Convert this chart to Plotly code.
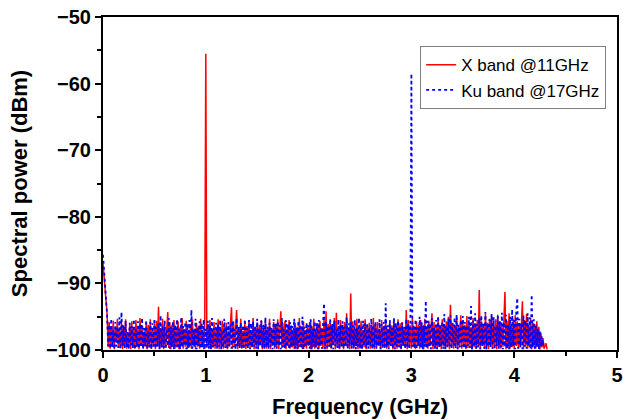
import numpy as np
import plotly.graph_objects as go

# Frequency grid (GHz): first sample and step between samples
f_start = 0.0
f_step = 0.01

# X band @11GHz spectrum (dBm), one value per 0.01 GHz, 0 .. 4.32 GHz
x_band_dbm = [
    -87.0, -89.0, -91.2, -93.0, -94.6, -99.6, -95.8, -99.8, -96.4, -99.2,
    -95.6, -99.9, -96.9, -98.8, -95.3, -99.7, -97.2, -99.5, -95.9, -99.9,
    -96.6, -99.3, -95.4, -99.8, -97.4, -99.6, -96.1, -99.9, -95.7, -99.4,
    -97.0, -99.8, -95.5, -99.6, -96.8, -99.9, -95.2, -99.3, -96.4, -99.7,
    -97.3, -99.5, -95.9, -99.9, -96.2, -99.6, -95.4, -99.8, -97.1, -99.4,
    -96.0, -99.9, -95.6, -99.5, -93.5, -99.8, -96.7, -99.6, -95.3, -99.9,
    -96.5, -99.4, -97.2, -94.3, -99.7, -95.8, -99.9, -96.3, -99.5, -95.5,
    -99.8, -97.0, -99.6, -95.7, -99.9, -96.6, -99.3, -95.2, -99.8, -96.9,
    -99.5, -95.6, -99.9, -97.3, -99.6, -96.1, -99.8, -95.4, -99.4, -96.8,
    -99.9, -95.9, -99.5, -96.4, -99.8, -95.3, -99.6, -97.1, -99.9, -95.7,
    -55.5, -99.7, -96.2, -99.4, -95.5, -99.9, -96.9, -99.6, -95.8, -99.8,
    -97.0, -99.5, -95.4, -99.9, -96.6, -99.3, -95.6, -99.8, -96.3, -99.6,
    -95.9, -99.9, -97.2, -99.5, -96.0, -93.6, -99.8, -95.7, -99.4, -96.5,
    -94.0, -99.9, -96.8, -99.6, -95.3, -99.8, -97.1, -99.5, -95.8, -99.9,
    -96.4, -99.4, -95.6, -99.8, -97.3, -99.6, -95.2, -99.9, -96.7, -99.5,
    -95.9, -99.8, -96.2, -99.3, -95.5, -99.9, -97.0, -99.6, -95.7, -99.8,
    -96.6, -99.5, -95.3, -99.9, -96.9, -99.4, -95.8, -99.8, -96.1, -99.6,
    -95.4, -99.9, -97.2, -94.2, -99.7, -96.0, -99.5, -95.6, -99.9, -96.8,
    -99.4, -95.5, -99.8, -96.3, -99.6, -97.1, -99.9, -95.9, -99.3, -96.5,
    -99.8, -95.2, -99.5, -96.8, -99.9, -95.7, -99.6, -97.0, -99.8, -96.2,
    -99.4, -95.8, -99.9, -96.4, -99.6, -95.3, -99.8, -97.3, -99.5, -96.0,
    -99.9, -95.6, -99.4, -96.7, -99.8, -95.4, -99.6, -94.2, -99.9, -96.1,
    -99.5, -95.9, -99.8, -96.5, -99.3, -95.2, -99.9, -94.4, -99.6, -96.8,
    -99.8, -95.5, -99.5, -96.2, -99.9, -95.8, -99.4, -94.5, -99.7, -96.6,
    -99.9, -91.5, -99.6, -95.7, -99.8, -96.9, -99.4, -95.3, -99.9, -96.4,
    -99.5, -95.6, -99.8, -97.0, -99.6, -95.4, -99.9, -96.3, -99.3, -95.9,
    -99.8, -96.7, -99.5, -95.2, -99.9, -96.1, -99.6, -95.8, -99.4, -97.2,
    -99.9, -95.5, -99.7, -96.5, -99.5, -95.3, -99.8, -96.8, -99.6, -95.7,
    -99.4, -96.3, -99.9, -95.6, -99.6, -97.1, -99.8, -95.4, -99.5, -96.0,
    -99.9, -95.8, -99.4, -96.6, -99.7, -94.0, -99.9, -95.5, -99.6, -96.3,
    -99.8, -95.2, -99.5, -96.9, -99.9, -95.7, -99.3, -96.2, -99.8, -95.5,
    -99.6, -96.4, -99.9, -95.3, -99.5, -96.8, -99.8, -95.6, -99.4, -96.0,
    -94.5, -99.9, -95.8, -99.6, -96.5, -99.8, -95.2, -99.5, -96.7, -99.9,
    -95.4, -99.4, -96.1, -99.8, -95.7, -99.6, -95.0, -99.9, -93.2, -99.5,
    -95.9, -99.8, -96.4, -99.3, -95.1, -99.9, -96.6, -99.6, -94.8, -99.8,
    -95.6, -99.5, -96.2, -99.9, -94.9, -99.7, -95.8, -99.4, -96.5, -99.9,
    -95.2, -99.6, -96.0, -99.8, -95.5, -99.5, -91.0, -99.9, -95.7, -99.4,
    -96.3, -99.8, -94.6, -99.6, -95.9, -99.9, -95.3, -99.5, -94.9, -99.8,
    -96.1, -99.4, -95.4, -99.9, -94.7, -99.6, -95.8, -99.8, -96.4, -99.5,
    -95.0, -91.3, -99.9, -95.6, -99.5, -94.5, -99.8, -96.2, -99.6, -95.3,
    -99.9, -94.8, -99.4, -95.7, -99.8, -96.0, -99.6, -95.1, -92.7, -99.9,
    -95.5, -99.5, -94.6, -99.8, -96.3, -99.6, -95.2, -99.9, -95.9, -99.4,
    -96.1, -99.8, -95.7, -99.5, -96.5, -99.9, -97.4, -99.6, -98.2, -99.8,
    -99.2, -99.0, -99.9,
]

# Ku band @17GHz spectrum (dBm), one value per 0.01 GHz, 0 .. 4.29 GHz
ku_band_dbm = [
    -85.7, -88.0, -91.0, -93.0, -94.8, -99.4, -96.2, -99.8, -95.3, -99.6,
    -97.0, -99.9, -95.8, -99.5, -96.5, -99.7, -95.1, -99.9, -94.3, -99.4,
    -96.3, -99.8, -95.6, -99.6, -97.1, -99.9, -95.9, -99.3, -96.4, -99.7,
    -95.4, -99.9, -96.9, -99.5, -95.7, -99.8, -96.1, -99.6, -95.2, -99.9,
    -96.7, -99.4, -95.5, -99.8, -97.2, -99.6, -95.8, -99.9, -96.0, -99.5,
    -95.3, -99.8, -96.6, -99.5, -95.9, -99.9, -94.8, -99.6, -96.3, -99.7,
    -95.6, -99.9, -97.0, -99.4, -95.2, -99.8, -96.5, -99.6, -95.7, -99.9,
    -96.2, -99.5, -95.4, -99.8, -96.8, -99.9, -95.1, -99.6, -96.4, -99.4,
    -95.8, -99.9, -96.1, -99.7, -95.5, -99.6, -94.0, -99.8, -96.9, -99.5,
    -95.3, -99.9, -96.6, -99.4, -95.7, -99.8, -96.0, -99.6, -95.4, -99.9,
    -96.8, -99.5, -95.6, -99.8, -96.3, -99.9, -95.2, -99.6, -96.7, -99.4,
    -95.9, -99.8, -96.2, -99.5, -95.5, -99.9, -97.0, -99.6, -95.3, -99.7,
    -96.4, -99.9, -95.8, -99.4, -96.1, -99.8, -95.6, -99.6, -96.9, -99.9,
    -95.2, -99.5, -96.5, -99.8, -95.9, -99.6, -96.3, -99.9, -95.4, -99.4,
    -96.7, -99.8, -95.5, -99.9, -96.0, -99.6, -95.7, -99.5, -96.4, -99.8,
    -95.3, -99.9, -96.8, -99.4, -95.6, -99.7, -96.2, -99.9, -95.1, -99.6,
    -96.5, -99.8, -95.9, -99.5, -96.6, -99.9, -95.4, -99.6, -96.0, -99.8,
    -95.7, -99.4, -96.3, -99.9, -95.2, -99.6, -96.9, -99.8, -95.5, -99.5,
    -96.1, -99.9, -95.8, -99.6, -96.4, -99.4, -95.3, -99.8, -96.7, -99.9,
    -95.6, -99.5, -96.2, -99.8, -95.0, -99.9, -96.5, -99.6, -95.9, -99.4,
    -96.3, -99.8, -95.4, -99.9, -96.8, -99.5, -95.7, -99.6, -96.0, -99.9,
    -95.5, -99.4, -96.6, -99.8, -95.2, -93.0, -99.9, -95.8, -99.6, -96.4,
    -99.5, -95.3, -99.8, -96.1, -99.9, -95.6, -99.4, -96.9, -99.7, -95.4,
    -99.9, -96.2, -99.6, -95.7, -99.8, -96.5, -99.5, -95.1, -99.9, -96.0,
    -99.4, -95.8, -99.8, -96.3, -99.6, -95.5, -99.9, -96.7, -99.5, -95.2,
    -99.8, -96.4, -99.9, -95.6, -99.4, -96.0, -99.7, -95.9, -99.8, -96.6,
    -99.5, -95.3, -99.9, -96.2, -99.6, -95.7, -99.8, -96.8, -99.4, -95.4,
    -99.9, -96.1, -99.5, -95.8, -99.8, -93.0, -99.6, -96.3, -99.9, -95.5,
    -99.4, -96.7, -99.8, -95.2, -99.9, -96.0, -99.5, -95.6, -99.6, -96.4,
    -99.9, -95.9, -99.4, -96.5, -99.8, -95.3, -99.6, -96.1, -99.9, -95.7,
    -58.5, -99.5, -96.2, -99.8, -95.4, -99.9, -96.6, -99.4, -95.0, -99.7,
    -95.8, -99.9, -96.3, -99.5, -92.6, -99.8, -95.6, -99.6, -96.0, -99.9,
    -95.2, -99.4, -96.7, -99.8, -95.5, -99.9, -94.9, -99.6, -96.1, -99.5,
    -95.7, -99.8, -94.6, -99.9, -96.4, -99.5, -95.3, -99.6, -94.8, -99.9,
    -96.0, -99.4, -95.1, -99.8, -94.7, -99.9, -96.2, -99.6, -95.5, -99.5,
    -94.9, -99.8, -95.8, -99.9, -96.3, -99.4, -95.0, -99.7, -93.4, -99.9,
    -95.6, -99.5, -94.5, -99.8, -96.1, -99.6, -95.2, -99.9, -94.8, -99.4,
    -95.9, -99.8, -94.3, -99.9, -96.0, -99.5, -95.4, -99.6, -94.6, -99.8,
    -95.1, -99.9, -96.4, -99.4, -94.9, -99.8, -95.7, -99.6, -94.4, -99.9,
    -95.8, -99.5, -94.7, -99.8, -96.2, -99.9, -95.0, -99.6, -93.9, -99.4,
    -95.5, -99.9, -94.2, -92.2, -99.8, -95.3, -99.6, -96.0, -99.9, -94.8,
    -99.5, -95.6, -99.8, -94.5, -99.4, -95.1, -99.9, -91.7, -99.6, -95.4,
    -99.8, -96.3, -99.5, -96.8, -99.9, -97.2, -99.6, -98.0, -99.4, -98.6,
]

freq_x = f_start + f_step * np.arange(len(x_band_dbm))
freq_ku = f_start + f_step * np.arange(len(ku_band_dbm))

x_ticks = [0, 1, 2, 3, 4, 5]
y_ticks = [-100, -90, -80, -70, -60, -50]
y_tick_text = ["\u2212" + str(abs(v)) for v in y_ticks]

FONT = "Liberation Sans, Arial, sans-serif"

fig = go.Figure()
fig.add_trace(go.Scatter(
    x=freq_x, y=x_band_dbm, mode="lines", name="X band @11GHz",
    line=dict(color="#ff0000", width=1.5),
))
fig.add_trace(go.Scatter(
    x=freq_ku, y=ku_band_dbm, mode="lines", name="Ku band @17GHz",
    line=dict(color="#0000ff", width=1.8, dash="dot"),
))

fig.update_layout(
    width=623, height=419,
    margin=dict(l=103, r=6, t=17, b=69),
    paper_bgcolor="white", plot_bgcolor="white",
    font=dict(family=FONT, color="black"),
    showlegend=True,
    legend=dict(
        x=0.617, y=0.912, xanchor="left", yanchor="top",
        bgcolor="white", bordercolor="#808080", borderwidth=1,
        font=dict(family=FONT, size=17, color="black"),
        tracegroupgap=0, itemwidth=30,
    ),
    xaxis=dict(
        range=[0, 5], tickvals=x_ticks, ticktext=[str(v) for v in x_ticks],
        automargin=False,
        showgrid=False, zeroline=False,
        showline=True, linecolor="black", linewidth=2, mirror=True,
        ticks="outside", ticklen=6, tickwidth=2, tickcolor="black",
        minor=dict(dtick=0.5, ticks="outside", ticklen=4, tickwidth=2, tickcolor="black"),
        tickfont=dict(family=FONT, size=20, color="black", weight="bold"),
        title=dict(text="<b>Frequency (GHz)</b>", font=dict(family=FONT, size=22, color="black"), standoff=14),
    ),
    yaxis=dict(
        range=[-100, -50], tickvals=y_ticks, ticktext=y_tick_text,
        automargin=False,
        showgrid=False, zeroline=False,
        showline=True, linecolor="black", linewidth=2, mirror=True,
        ticks="outside", ticklen=6, tickwidth=2, tickcolor="black",
        minor=dict(dtick=5, ticks="outside", ticklen=4, tickwidth=2, tickcolor="black"),
        tickfont=dict(family=FONT, size=20, color="black", weight="bold"),
        title=dict(text="<b>Spectral power (dBm)</b>", font=dict(family=FONT, size=22, color="black"), standoff=12),
    ),
)

fig.write_html(
    "out.html",
    config={"displayModeBar": False},
    post_script="document.body.style.margin='0';document.body.style.padding='0';",
)
